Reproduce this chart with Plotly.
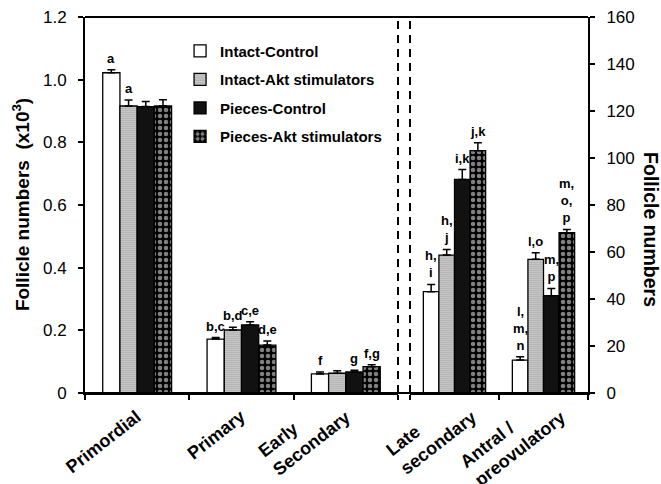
import plotly.graph_objects as go

# ---------------- data ----------------
categories_left = ["Primordial", "Primary", "Early<br>Secondary"]
categories_right = ["Late<br>secondary", "Antral /<br>preovulatory"]

series_names = ["Intact-Control", "Intact-Akt stimulators", "Pieces-Control", "Pieces-Akt stimulators"]

# left panel, follicle numbers (x10^3)
intact_control_left = [1.022, 0.172, 0.061]
intact_akt_left = [0.916, 0.201, 0.063]
pieces_control_left = [0.914, 0.217, 0.067]
pieces_akt_left = [0.916, 0.153, 0.084]

intact_control_left_err = [0.010, 0.005, 0.006]
intact_akt_left_err = [0.019, 0.009, 0.008]
pieces_control_left_err = [0.016, 0.010, 0.006]
pieces_akt_left_err = [0.020, 0.013, 0.006]

# right panel, follicle numbers
intact_control_right = [43.1, 14.0]
intact_akt_right = [58.7, 56.9]
pieces_control_right = [90.9, 41.4]
pieces_akt_right = [103.1, 68.2]

intact_control_right_err = [3.1, 1.4]
intact_akt_right_err = [2.4, 2.8]
pieces_control_right_err = [4.2, 3.1]
pieces_akt_right_err = [3.4, 1.4]

# significance letters
letters_left = [
    ["a", "b,c", "f"],
    ["a", "b,d", ""],
    ["", "c,e", "g"],
    ["", "d,e", "f,g"],
]
letters_right = [
    ["h,<br>i", "l,<br>m,<br>n"],
    ["h,<br>j", "l,o"],
    ["i,k", "m,<br>p"],
    ["j,k", "m,<br>o,<br>p"],
]

left_ticks = [0, 0.2, 0.4, 0.6, 0.8, 1.0, 1.2]
left_ticktext = ["0", "0.2", "0.4", "0.6", "0.8", "1.0", "1.2"]
right_ticks = [0, 20, 40, 60, 80, 100, 120, 140, 160]

# ---------------- styling ----------------
FONT = "Liberation Sans, Arial, sans-serif"
values_left = [intact_control_left, intact_akt_left, pieces_control_left, pieces_akt_left]
errs_left = [intact_control_left_err, intact_akt_left_err, pieces_control_left_err, pieces_akt_left_err]
values_right = [intact_control_right, intact_akt_right, pieces_control_right, pieces_akt_right]
errs_right = [intact_control_right_err, intact_akt_right_err, pieces_control_right_err, pieces_akt_right_err]

styles = [
    dict(color="white", pattern=dict(shape="")),
    dict(color="white", pattern=dict(shape=".", fgcolor="#000000", bgcolor="#ffffff", size=2, solidity=0.6)),
    dict(color="#111111", pattern=dict(shape="")),
    dict(color="black", pattern=dict(shape=".", fgcolor="#ffffff", bgcolor="#000000", size=6, solidity=0.45)),
]

w_left = 0.165
w_right = 0.175

fig = go.Figure()
annotations = []

for k in range(4):
    fig.add_trace(go.Bar(
        x=list(range(len(categories_left))), y=values_left[k],
        name=series_names[k], legendgroup=series_names[k],
        width=w_left, offset=(k - 2) * w_left,
        marker=dict(color=styles[k]["color"], pattern=styles[k]["pattern"],
                    line=dict(color="black", width=1.3)),
        error_y=dict(type="data", symmetric=False, array=errs_left[k],
                     arrayminus=[0] * len(errs_left[k]), color="black", thickness=1.5, width=4),
        xaxis="x", yaxis="y",
    ))
    fig.add_trace(go.Bar(
        x=list(range(len(categories_right))), y=values_right[k],
        name=series_names[k], legendgroup=series_names[k], showlegend=False,
        width=w_right, offset=(k - 2) * w_right,
        marker=dict(color=styles[k]["color"], pattern=styles[k]["pattern"],
                    line=dict(color="black", width=1.3)),
        error_y=dict(type="data", symmetric=False, array=errs_right[k],
                     arrayminus=[0] * len(errs_right[k]), color="black", thickness=1.5, width=4),
        xaxis="x2", yaxis="y2",
    ))
    for i, lab in enumerate(letters_left[k]):
        if lab:
            annotations.append(dict(
                x=i + (k - 1.5) * w_left, y=values_left[k][i] + errs_left[k][i],
                xref="x", yref="y", text=lab, showarrow=False,
                yanchor="bottom", yshift=2,
                font=dict(family=FONT, size=13, color="black", weight="bold")))
    for i, lab in enumerate(letters_right[k]):
        if lab:
            annotations.append(dict(
                x=i + (k - 1.5) * w_right, y=values_right[k][i] + errs_right[k][i],
                xref="x2", yref="y2", text=lab, showarrow=False,
                yanchor="bottom", yshift=2,
                font=dict(family=FONT, size=13, color="black", weight="bold")))

# rotated category labels (anchored at the end of the last line)
def cat_label(i, lab, xref, xshift):
    extra_lines = lab.count("<br>")
    return dict(
        x=i, y=0, xref=xref, yref="paper", text=lab, showarrow=False,
        textangle=-38, xanchor="right", yanchor="top", align="left",
        xshift=xshift, yshift=-11 + 18 * extra_lines,
        font=dict(family=FONT, size=18, color="black", weight="bold"))

for i, lab in enumerate(categories_left):
    annotations.append(cat_label(i, lab, "x", 10))
for i, lab in enumerate(categories_right):
    annotations.append(cat_label(i, lab, "x2", 28))

# axis titles
annotations.append(dict(
    x=-0.127, y=0.5, xref="paper", yref="paper",
    text="Follicle numbers  (x10<sup>3</sup>)", showarrow=False, textangle=-90,
    xanchor="center", yanchor="middle",
    font=dict(family=FONT, size=19, color="black", weight="bold")))
annotations.append(dict(
    x=1.124, y=0.435, xref="paper", yref="paper",
    text="Follicle numbers", showarrow=False, textangle=90,
    xanchor="center", yanchor="middle",
    font=dict(family=FONT, size=19.5, color="black", weight="bold")))

split_left = (398 - 85) / 503
split_right = (410 - 85) / 503

shapes = [
    dict(type="line", xref="paper", yref="paper", x0=0, x1=1, y0=1, y1=1,
         line=dict(color="black", width=2)),
    dict(type="line", xref="paper", yref="paper", x0=0, x1=1, y0=0, y1=0,
         line=dict(color="black", width=2)),
    dict(type="line", xref="paper", yref="paper", x0=split_left, x1=split_left, y0=0, y1=1,
         line=dict(color="black", width=2, dash="8px,6px")),
    dict(type="line", xref="paper", yref="paper", x0=split_right, x1=split_right, y0=0, y1=1,
         line=dict(color="black", width=2, dash="8px,6px")),
]

axis_common = dict(showgrid=False, zeroline=False, ticks="outside", tickcolor="black",
                   tickwidth=2, ticklen=5, linecolor="black", linewidth=2, showline=True,
                   automargin=False)

fig.update_layout(
    width=661, height=484,
    margin=dict(l=85, r=73, t=17, b=91, autoexpand=False),
    paper_bgcolor="white", plot_bgcolor="white",
    barmode="overlay",
    showlegend=True,
    font=dict(family=FONT, color="black"),
    xaxis=dict(domain=[0, split_left], range=[-0.5, len(categories_left) - 0.5],
               tickmode="array", tickvals=[-0.5, 0.5, 1.5, 2.5],
               showticklabels=False, anchor="y", **axis_common),
    xaxis2=dict(domain=[split_right, 1], range=[-0.5, len(categories_right) - 0.5],
                tickmode="array", tickvals=[-0.5, 0.5, 1.5],
                showticklabels=False, anchor="y2", **axis_common),
    yaxis=dict(range=[0, 1.2], tickvals=left_ticks, ticktext=left_ticktext, anchor="x",
               ticklabelstandoff=8,
               tickfont=dict(family=FONT, size=17, color="black"), **axis_common),
    yaxis2=dict(range=[0, 160], tickvals=right_ticks, anchor="x2", side="right",
                ticklabelstandoff=8,
                tickfont=dict(family=FONT, size=17, color="black"), **axis_common),
    legend=dict(x=0.189, y=0.953, xanchor="left", yanchor="top",
                bgcolor="rgba(0,0,0,0)", tracegroupgap=6, traceorder="grouped",
                font=dict(family=FONT, size=15, color="black", weight="bold"),
                itemwidth=30),
    annotations=annotations,
    shapes=shapes,
)

fig.write_html(
    "out.html",
    config={"displayModeBar": False},
    post_script="document.body.style.margin='0';document.body.style.overflow='hidden';",
)
